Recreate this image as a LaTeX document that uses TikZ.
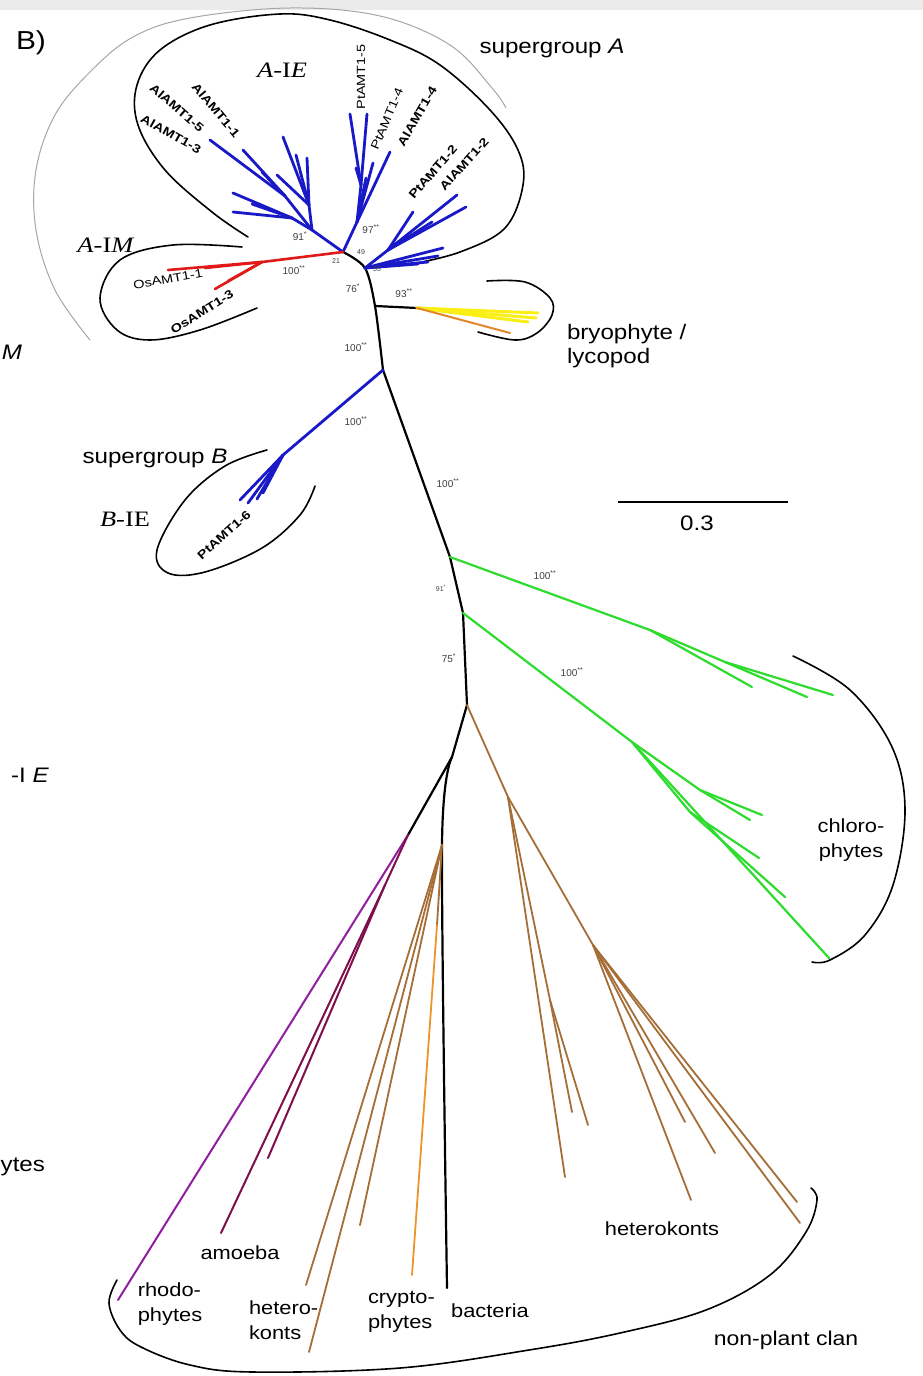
\documentclass[tikz,border=0pt]{standalone}
\usepackage{fontspec}
\setmainfont{Liberation Sans}
\newfontfamily\widef{Liberation Sans}[FakeStretch=1.15]
\newfontfamily\timesw{Liberation Serif}[FakeStretch=1.2]
\definecolor{tblue}{RGB}{25,25,200}
\definecolor{tred}{RGB}{225,25,25}
\definecolor{tyellow}{RGB}{250,238,20}
\definecolor{torange}{RGB}{225,135,40}
\definecolor{tgreen}{RGB}{45,220,45}
\definecolor{tbrown}{RGB}{165,110,55}
\definecolor{tcrypt}{RGB}{235,150,40}
\definecolor{tpurple}{RGB}{145,30,160}
\definecolor{tmaroon}{RGB}{125,15,75}
\begin{document}
\begin{tikzpicture}[x=1pt,y=-1pt,
  every node/.style={inner sep=0pt, outer sep=0pt},
  bk/.style={draw=black, line width=2.2pt, line cap=round, line join=round},
  bl/.style={draw=tblue, line width=2.8pt, line cap=round},
  rd/.style={draw=tred, line width=2.6pt, line cap=round},
  yl/.style={draw=tyellow, line width=3pt, line cap=round},
  orl/.style={draw=torange, line width=2pt, line cap=round},
  gr/.style={draw=tgreen, line width=2.2pt, line cap=round},
  bn/.style={draw=tbrown, line width=1.8pt, line cap=round},
  pu/.style={draw=tpurple, line width=2pt, line cap=round},
  ma/.style={draw=tmaroon, line width=2pt, line cap=round},
  cr/.style={draw=tcrypt, line width=1.8pt, line cap=round},
  brk/.style={draw=black, line width=1.6pt, line cap=round},
  gbrk/.style={draw=black!35, line width=1pt},
  big/.style={font=\widef\fontsize{21}{24}\selectfont},
  mid/.style={font=\widef\fontsize{19}{25}\selectfont},
  ser/.style={font=\timesw\fontsize{22}{24}\selectfont},
  gene/.style={font=\bfseries\fontsize{14.5}{16}\selectfont, yscale=0.82},
  genel/.style={font=\fontsize{14.5}{16}\selectfont, yscale=0.82},
  bs/.style={font=\fontsize{10}{11}\selectfont, text=black!75},
  bss/.style={font=\fontsize{7}{8}\selectfont, text=black!75},
]
\clip (0,0) rectangle (923,1376);
\fill[white] (0,0) rectangle (923,1376);
\fill[black!8] (0,0) rectangle (923,10);

% ---------- coordinates ----------
\coordinate (nA) at (343,252);
\coordinate (nB) at (365,268);
\coordinate (nC) at (375,306);
\coordinate (nD) at (383,370);
\coordinate (nE) at (450,557);
\coordinate (nF) at (463,613);
\coordinate (nG) at (467,705);
\coordinate (nH) at (452,757);
\coordinate (nP) at (408,835);
\coordinate (nK) at (442,845);
\coordinate (nO) at (437,925);
\coordinate (nJ) at (508,797);
% top-left blue
\coordinate (nL0) at (312,230);
\coordinate (nL1) at (285,196);
\coordinate (nL2) at (292,218);
\coordinate (nL3) at (309,205);
\coordinate (tL1) at (210,140);
\coordinate (tL2) at (243,150);
\coordinate (tL3) at (262,172);
\coordinate (tL4) at (233,193);
\coordinate (tL5) at (233,212);
\coordinate (tL6) at (252,204);
\coordinate (tL7) at (283,137);
\coordinate (tL8) at (296,155);
\coordinate (tL9) at (307,158);
\coordinate (tL10) at (277,175);
% middle blue
\coordinate (nM0) at (357,222);
\coordinate (nM1) at (361,185);
\coordinate (tM1) at (350,114);
\coordinate (tM2) at (367,114);
\coordinate (tM3) at (356,168);
\coordinate (tM4) at (373,163);
\coordinate (tM5) at (390,152);
\coordinate (tM6) at (366,178);
% right blue
\coordinate (nR0) at (388,250);
\coordinate (tR1) at (457,195);
\coordinate (tR2) at (466,207);
\coordinate (tR3) at (413,212);
\coordinate (tR4) at (432,222);
\coordinate (tR5) at (443,248);
\coordinate (tR6) at (438,256);
\coordinate (tR7) at (418,264);
\coordinate (tR8) at (428,262);
% red
\coordinate (nRd) at (262,262);
\coordinate (tRd1) at (168,270);
\coordinate (tRd2) at (215,289);
\coordinate (tRd3) at (205,268);
\coordinate (tRd4) at (228,281);
% bryophyte
\coordinate (nBr) at (417,308);
\coordinate (tY1) at (538,313);
\coordinate (tY2) at (536,318);
\coordinate (tY3) at (528,322);
\coordinate (tOr) at (510,333);
% B
\coordinate (nBb) at (283,455);
\coordinate (tB1) at (240,500);
\coordinate (tB2) at (248,503);
\coordinate (tB3) at (257,499);
\coordinate (tB4) at (263,493);
% green
\coordinate (nE1) at (650,630);
\coordinate (nE2) at (725,662);
\coordinate (tE1) at (752,687);
\coordinate (tE2) at (807,697);
\coordinate (tE3) at (833,695);
\coordinate (nF1) at (632,742);
\coordinate (nF2) at (700,790);
\coordinate (nF3) at (690,812);
\coordinate (tF1) at (762,815);
\coordinate (tF2) at (750,820);
\coordinate (tF3) at (759,858);
\coordinate (tF4) at (785,897);
\coordinate (tF5) at (829,958);
% lower
\coordinate (tRh) at (118,1300);
\coordinate (nP1) at (385,885);
\coordinate (tAm1) at (221,1233);
\coordinate (tAm2) at (268,1158);
\coordinate (tBa) at (447,1288);
\coordinate (tHk1) at (306,1285);
\coordinate (tHk2) at (309,1352);
\coordinate (tHk3) at (360,1225);
\coordinate (tCr) at (412,1275);
\coordinate (nJ1) at (550,1000);
\coordinate (nJ2) at (593,945);
\coordinate (tJ1) at (565,1177);
\coordinate (tJ2) at (572,1112);
\coordinate (tJ3) at (588,1125);
\coordinate (tJ4) at (691,1200);
\coordinate (tJ5) at (685,1122);
\coordinate (tJ6) at (715,1153);
\coordinate (tJ7) at (797,1202);
\coordinate (tJ8) at (800,1223);

% ---------- brackets ----------
\draw[gbrk] plot[smooth, tension=0.6] coordinates {(90,340) (55,290) (36,230) (36,170) (55,115) (90,72) (133,37) (190,18) (290,8) (380,16) (450,45) (492,88) (506,108)};
\draw[brk] plot[smooth, tension=0.6] coordinates {(248,237) (212,212) (165,170) (138,125) (137,85) (160,50) (210,25) (280,14) (330,20) (390,40) (440,65) (490,110) (518,150) (523,185) (505,228) (460,252) (412,264)};
\draw[brk] plot[smooth, tension=0.6] coordinates {(242,247) (173,245) (120,260) (100,298) (117,330) (150,340) (200,330) (257,308)};
\draw[brk] plot[smooth, tension=0.6] coordinates {(487,281) (525,282) (550,298) (552,315) (537,333) (515,340) (478,332)};
\draw[brk] plot[smooth, tension=0.6] coordinates {(267,450) (225,466) (185,500) (157,550) (168,573) (205,572) (262,548) (300,515) (315,486)};
\draw[brk] plot[smooth, tension=0.6] coordinates {(793,656) (850,690) (892,747) (905,810) (893,885) (865,935) (830,960) (812,962)};
\draw[brk] plot[smooth, tension=0.6] coordinates {(117,1280) (109,1303) (120,1330) (141,1347) (190,1365) (253,1372) (400,1368) (529,1350) (620,1333) (706,1310) (770,1275) (806,1232) (817,1200) (811,1188)};

% ---------- tree ----------
% backbone
\draw[bk] plot[smooth, tension=0.5] coordinates {(nA) (nB) (nC) (nD)};
\draw[bk] (nD) -- (nE) -- (nF) -- (nG);
\draw[bk] (nG) -- (nH) -- (nP);
\draw[bk] plot[smooth, tension=0.5] coordinates {(nH) (nK) (tBa)};
\draw[bk] (nC) -- (nBr);
% top-left blue
\draw[bl] (nA) -- (nL0);
\foreach \t in {nL1,nL2,nL3} \draw[bl] (nL0) -- (\t);
\foreach \t in {tL1,tL2,tL3} \draw[bl] (nL1) -- (\t);
\foreach \t in {tL4,tL5,tL6} \draw[bl] (nL2) -- (\t);
\foreach \t in {tL7,tL8,tL9,tL10} \draw[bl] (nL3) -- (\t);
% middle blue
\draw[bl] (nA) -- (nM0) -- (nM1);
\foreach \t in {tM1,tM2,tM3} \draw[bl] (nM1) -- (\t);
\foreach \t in {tM4,tM5,tM6} \draw[bl] (nM0) -- (\t);
% right blue
\draw[bl] (nB) -- (nR0);
\foreach \t in {tR1,tR2,tR3,tR4} \draw[bl] (nR0) -- (\t);
\foreach \t in {tR5,tR6,tR7,tR8} \draw[bl] (nB) -- (\t);
% red
\draw[rd] (nA) -- (nRd);
\foreach \t in {tRd1,tRd2,tRd3,tRd4} \draw[rd] (nRd) -- (\t);
% bryophyte / lycopod
\foreach \t in {tY1,tY2,tY3} \draw[yl] (nBr) -- (\t);
\draw[orl] (nBr) -- (tOr);
% supergroup B
\draw[bl] (nD) -- (nBb);
\foreach \t in {tB1,tB2,tB3,tB4} \draw[bl] (nBb) -- (\t);
% green
\draw[gr] (nE) -- (nE1) -- (tE1);
\draw[gr] (nE1) -- (nE2);
\foreach \t in {tE2,tE3} \draw[gr] (nE2) -- (\t);
\draw[gr] (nF) -- (nF1) -- (tF5);
\draw[gr] (nF1) -- (nF2);
\draw[gr] (nF1) -- (nF3);
\foreach \t in {tF1,tF2} \draw[gr] (nF2) -- (\t);
\foreach \t in {tF3,tF4} \draw[gr] (nF3) -- (\t);
% purple / amoeba
\draw[pu] (nP) -- (tRh);
\draw[ma] (nP) -- (nP1);
\foreach \t in {tAm1,tAm2} \draw[ma] (nP1) -- (\t);
% brown left + cryptophytes
\foreach \t in {tHk1,tHk2,tHk3} \draw[bn] (nK) -- (\t);
\draw[bn] (nK) -- (nO);
\draw[cr] (nO) -- (tCr);
% brown right
\draw[bn] (nG) -- (nJ);
\draw[bn] (nJ) -- (tJ1);
\draw[bn] (nJ) -- (nJ1);
\foreach \t in {tJ2,tJ3} \draw[bn] (nJ1) -- (\t);
\draw[bn] (nJ) -- (nJ2);
\foreach \t in {tJ4,tJ5,tJ6,tJ7,tJ8} \draw[bn] (nJ2) -- (\t);

% ---------- scale bar ----------
\coordinate (s1) at (618,502);
\coordinate (s2) at (788,502);
\draw[line width=2pt] (s1) -- (s2);
\node[font=\widef\fontsize{21}{23}\selectfont] (scl) at (697,523) {0.3};

% ---------- labels ----------
\node[font=\widef\fontsize{26}{28}\selectfont] (panel) at (31,43) {B)};
\node[big] (sgA) at (552,48) {supergroup \textit{A}};
\node[big, anchor=west, align=left] (bryo) at (567,346) {bryophyte /\\lycopod};
\node[big] (sgB) at (155,458) {supergroup \textit{B}};
\node[ser] (AIE) at (282,70) {\textit{A}-I\textit{E}};
\node[ser] (AIM) at (106,245) {\textit{A}-I\textit{M}};
\node[ser] (BIE) at (125,519) {\textit{B}-IE};
\node[mid, align=center] (chl) at (851,840) {chloro-\\phytes};
\node[mid, align=left] (rho) at (170,1304) {rhodo-\\phytes};
\node[mid] (amo) at (240,1253) {amoeba};
\node[mid, align=left, anchor=west] (het) at (249,1320) {hetero-\\konts};
\node[mid, align=left, anchor=west] (cry) at (368,1312) {crypto-\\phytes};
\node[mid] (bac) at (490,1311) {bacteria};
\node[mid] (hetR) at (662,1229) {heterokonts};
\node[font=\widef\fontsize{20}{22}\selectfont] (npc) at (786,1340) {non-plant clan};
% partial labels of neighbouring panel
\node[big, anchor=east] (cutM) at (22,352) {\textit{M}};
\node[big, anchor=east] (cutE) at (49,775) {-I \textit{E}};
\node[big, anchor=east] (cutY) at (45,1167) {ytes};

% gene labels
\node[rotate=-50, gene] (g11) at (216,110) {AlAMT1-1};
\node[rotate=-41, gene] (g15) at (177,108) {AlAMT1-5};
\node[rotate=-29, gene] (g13) at (171,134) {AlAMT1-3};
\node[rotate=90, genel] (p15) at (361,77) {PtAMT1-5};
\node[rotate=67, genel] (p14) at (387,119) {PtAMT1-4};
\node[rotate=60, gene] (g14) at (417,116) {AlAMT1-4};
\node[rotate=49, gene] (p12) at (433,172) {PtAMT1-2};
\node[rotate=48, gene] (g12) at (464,164) {AlAMT1-2};
\node[rotate=10, genel] (o11) at (168,279) {OsAMT1-1};
\node[rotate=32, gene] (o13) at (202,312) {OsAMT1-3};
\node[rotate=42, gene] (p16) at (224,535) {PtAMT1-6};

% bootstrap values
\node[bs] (b1) at (300,236) {91\textsuperscript{*}};
\node[bs] (b2) at (371,229) {97\textsuperscript{**}};
\node[bss] (b3) at (361,252) {49};
\node[bss] (b4) at (336,261) {21};
\node[bs] (b5) at (294,270) {100\textsuperscript{**}};
\node[bss] (b6) at (377,269) {55};
\node[bs] (b7) at (353,288) {76\textsuperscript{*}};
\node[bs] (b8) at (404,293) {93\textsuperscript{**}};
\node[bs] (b9) at (356,347) {100\textsuperscript{**}};
\node[bs] (b10) at (356,421) {100\textsuperscript{**}};
\node[bs] (b11) at (448,483) {100\textsuperscript{**}};
\node[bss] (b12) at (441,588) {91\textsuperscript{*}};
\node[bs] (b13) at (449,658) {75\textsuperscript{*}};
\node[bs] (b14) at (545,575) {100\textsuperscript{**}};
\node[bs] (b15) at (572,672) {100\textsuperscript{**}};
\end{tikzpicture}
\end{document}
